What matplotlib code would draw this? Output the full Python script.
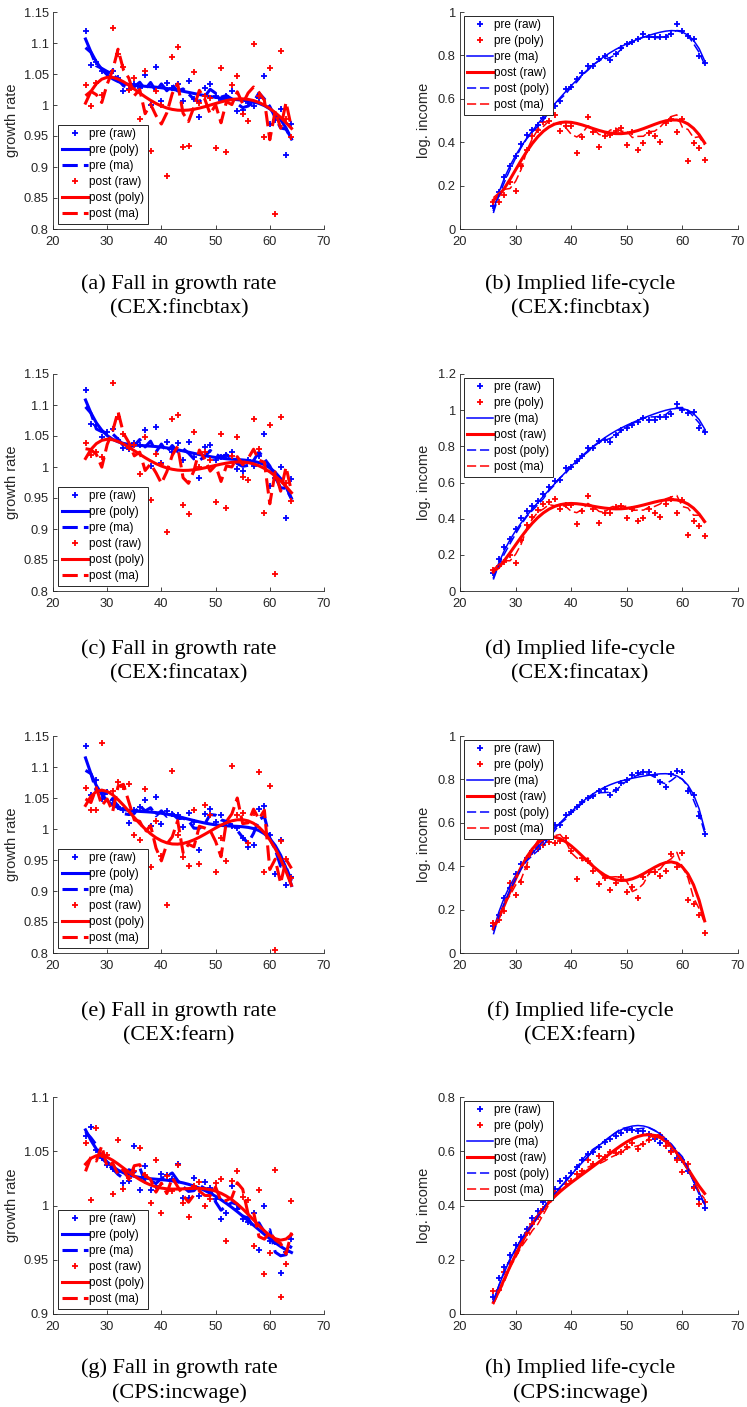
import numpy as np
import pandas as pd
import matplotlib
matplotlib.use("Agg")
import matplotlib.pyplot as plt
from matplotlib.ticker import FuncFormatter
from numpy.polynomial import Polynomial

ages = np.arange(26, 65)

# growth rates by age (left column)
growth_fincbtax_pre = [1.120, 1.065, 1.070, 1.055, 1.052, 1.055, 1.044, 1.023, 1.026, 1.034,
                       1.028, 1.048, 1.000, 1.061, 1.006, 1.035, 1.028, 1.034, 1.006, 1.038,
                       1.010, 0.980, 1.027, 1.034, 1.015, 1.008, 1.015, 1.023, 0.991, 0.992,
                       1.004, 0.999, 1.012, 1.047, 0.970, 0.976, 0.993, 0.920, 0.970]
growth_fincbtax_post = [1.032, 0.998, 1.036, 1.016, 0.960, 1.125, 1.083, 1.062, 1.025, 1.043,
                        0.977, 1.055, 0.926, 1.023, 1.000, 0.885, 1.077, 1.093, 0.933, 0.934,
                        1.053, 1.003, 1.015, 1.011, 0.930, 1.060, 0.924, 1.032, 1.046, 0.986,
                        0.974, 1.098, 1.015, 0.948, 1.060, 0.824, 1.087, 0.977, 0.949]
growth_fincatax_pre = [1.125, 1.069, 1.067, 1.048, 1.056, 1.061, 1.043, 1.031, 1.029, 1.038,
                       1.036, 1.059, 1.002, 1.064, 1.006, 1.041, 1.025, 1.038, 1.011, 1.040,
                       1.016, 0.983, 1.033, 1.035, 1.012, 1.016, 1.019, 1.025, 0.997, 0.994,
                       1.012, 1.002, 1.017, 1.054, 0.969, 0.982, 1.000, 0.917, 0.980]
growth_fincatax_post = [1.039, 1.020, 1.025, 1.016, 0.958, 1.135, 1.080, 1.053, 1.030, 1.035,
                        0.989, 1.048, 0.946, 1.021, 1.005, 0.895, 1.077, 1.084, 0.939, 0.925,
                        1.057, 1.000, 1.025, 1.012, 0.943, 1.053, 0.934, 1.018, 1.048, 0.984,
                        0.979, 1.078, 1.029, 0.926, 1.068, 0.828, 1.080, 0.975, 0.945]
growth_fearn_pre = [1.134, 1.055, 1.079, 1.048, 1.060, 1.047, 1.035, 1.030, 1.009, 1.031,
                    1.035, 1.047, 1.005, 1.051, 1.008, 1.029, 1.024, 1.023, 1.003, 1.026,
                    1.012, 0.966, 1.025, 1.033, 1.012, 1.022, 1.010, 1.005, 1.002, 0.986,
                    0.971, 0.975, 1.033, 1.037, 0.991, 0.928, 0.982, 0.910, 0.923]
growth_fearn_post = [1.066, 1.031, 1.031, 1.138, 0.945, 1.062, 1.076, 1.068, 1.072, 0.990,
                     0.982, 1.065, 0.939, 1.013, 0.956, 0.877, 1.094, 0.991, 0.955, 0.940,
                     1.031, 0.943, 1.039, 1.023, 0.931, 0.986, 0.949, 1.102, 1.022, 1.026,
                     0.978, 1.026, 1.092, 0.930, 1.069, 0.805, 0.980, 0.952, 0.921]
growth_incwage_pre = [1.064, 1.072, 1.051, 1.044, 1.037, 1.034, 1.031, 1.021, 1.023, 1.055,
                      1.014, 1.036, 1.014, 1.018, 1.029, 1.028, 1.024, 1.038, 1.007, 1.007,
                      1.025, 1.009, 1.022, 1.016, 1.006, 0.988, 0.993, 1.018, 0.997, 0.988,
                      0.985, 0.993, 0.959, 1.000, 0.967, 0.966, 0.938, 0.957, 0.969]
growth_incwage_post = [1.058, 1.005, 1.071, 1.047, 1.047, 1.011, 1.060, 1.015, 1.025, 1.032,
                       1.053, 1.028, 1.002, 1.042, 0.993, 1.027, 1.013, 1.037, 1.002, 0.989,
                       1.018, 1.022, 1.000, 1.006, 1.021, 1.024, 0.967, 1.023, 1.032, 1.008,
                       1.005, 0.963, 1.014, 0.937, 0.956, 1.033, 0.916, 0.946, 1.004]

# implied log income by age (right column)
income_fincbtax_pre = [0.108, 0.170, 0.238, 0.290, 0.338, 0.393, 0.435, 0.455, 0.480, 0.510,
                       0.540, 0.565, 0.590, 0.645, 0.655, 0.690, 0.720, 0.750, 0.753, 0.784,
                       0.796, 0.780, 0.808, 0.836, 0.854, 0.860, 0.876, 0.897, 0.885, 0.885,
                       0.885, 0.885, 0.897, 0.943, 0.914, 0.888, 0.876, 0.796, 0.765]
income_fincbtax_post = [0.123, 0.123, 0.158, 0.215, 0.174, 0.292, 0.366, 0.427, 0.455, 0.495,
                        0.500, 0.527, 0.450, 0.473, 0.473, 0.350, 0.424, 0.516, 0.445, 0.376,
                        0.430, 0.435, 0.450, 0.465, 0.385, 0.445, 0.366, 0.396, 0.442, 0.427,
                        0.400, 0.490, 0.505, 0.447, 0.507, 0.312, 0.396, 0.373, 0.320]
income_fincatax_pre = [0.101, 0.175, 0.243, 0.289, 0.344, 0.403, 0.445, 0.469, 0.497, 0.537,
                       0.574, 0.611, 0.615, 0.679, 0.685, 0.718, 0.749, 0.791, 0.791, 0.828,
                       0.837, 0.826, 0.860, 0.891, 0.902, 0.918, 0.937, 0.957, 0.948, 0.948,
                       0.961, 0.961, 0.979, 1.034, 1.001, 0.983, 0.992, 0.900, 0.878]
income_fincatax_post = [0.118, 0.136, 0.160, 0.200, 0.157, 0.280, 0.363, 0.409, 0.449, 0.479,
                        0.490, 0.510, 0.451, 0.477, 0.477, 0.368, 0.440, 0.523, 0.455, 0.377,
                        0.431, 0.431, 0.464, 0.470, 0.405, 0.455, 0.385, 0.403, 0.455, 0.431,
                        0.409, 0.482, 0.510, 0.433, 0.501, 0.311, 0.385, 0.359, 0.302]
income_fearn_pre = [0.126, 0.176, 0.255, 0.301, 0.362, 0.410, 0.440, 0.471, 0.489, 0.520,
                    0.560, 0.590, 0.590, 0.638, 0.650, 0.673, 0.696, 0.714, 0.723, 0.745,
                    0.757, 0.726, 0.749, 0.784, 0.795, 0.821, 0.830, 0.833, 0.833, 0.821,
                    0.787, 0.764, 0.825, 0.840, 0.833, 0.745, 0.726, 0.631, 0.550]
income_fearn_post = [0.137, 0.150, 0.195, 0.324, 0.267, 0.328, 0.395, 0.465, 0.480, 0.500,
                     0.510, 0.506, 0.514, 0.529, 0.471, 0.343, 0.438, 0.426, 0.380, 0.319,
                     0.347, 0.290, 0.324, 0.350, 0.281, 0.305, 0.252, 0.351, 0.374, 0.374,
                     0.354, 0.380, 0.456, 0.397, 0.460, 0.245, 0.225, 0.176, 0.091]
income_incwage_pre = [0.061, 0.132, 0.175, 0.217, 0.254, 0.285, 0.315, 0.354, 0.379, 0.413,
                      0.443, 0.460, 0.489, 0.501, 0.520, 0.541, 0.566, 0.590, 0.596, 0.614,
                      0.633, 0.645, 0.657, 0.669, 0.679, 0.679, 0.675, 0.675, 0.663, 0.645,
                      0.629, 0.639, 0.602, 0.574, 0.566, 0.529, 0.468, 0.425, 0.391]
income_incwage_post = [0.083, 0.089, 0.154, 0.187, 0.225, 0.260, 0.300, 0.333, 0.358, 0.388,
                       0.420, 0.445, 0.458, 0.480, 0.492, 0.517, 0.529, 0.566, 0.553, 0.584,
                       0.578, 0.596, 0.594, 0.596, 0.614, 0.629, 0.608, 0.625, 0.640, 0.651,
                       0.660, 0.620, 0.598, 0.566, 0.523, 0.553, 0.464, 0.407, 0.413]

sources = ["CEX:fincbtax", "CEX:fincatax", "CEX:fearn", "CPS:incwage"]
growth_pre = [growth_fincbtax_pre, growth_fincatax_pre, growth_fearn_pre, growth_incwage_pre]
growth_post = [growth_fincbtax_post, growth_fincatax_post, growth_fearn_post, growth_incwage_post]
income_pre = [income_fincbtax_pre, income_fincatax_pre, income_fearn_pre, income_incwage_pre]
income_post = [income_fincbtax_post, income_fincatax_post, income_fearn_post, income_incwage_post]
growth_ylims = [(0.8, 1.15), (0.8, 1.15), (0.8, 1.15), (0.9, 1.1)]
income_ylims = [(0, 1), (0, 1.2), (0, 1), (0, 0.8)]

legend_labels = ["pre (raw)", "pre (poly)", "pre (ma)", "post (raw)", "post (poly)", "post (ma)"]


def poly_fit(y, deg=5):
    return Polynomial.fit(ages, y, deg)(ages)


def moving_average(y, window=3):
    return pd.Series(y).rolling(window, center=True, min_periods=1).mean().to_numpy()


def life_cycle(g_smooth, g_raw, y_raw):
    # accumulate log growth, level set so it sits on the plotted points
    base = np.cumsum(np.log(g_raw))
    offset = np.mean(np.asarray(y_raw) - base)
    return offset + np.cumsum(np.log(g_smooth))


def style_axes(ax):
    for side in ["top", "right"]:
        ax.spines[side].set_visible(False)
    for side in ["left", "bottom"]:
        ax.spines[side].set_color("#262626")
        ax.spines[side].set_linewidth(0.6)
    ax.tick_params(direction="in", length=3, width=0.6, color="#262626",
                   labelcolor="#262626", labelsize=9.3)
    ax.tick_params(axis="x", pad=5)
    ax.tick_params(axis="y", pad=3)
    ax.yaxis.set_major_formatter(FuncFormatter(lambda v, p: f"{v:g}"))
    ax.set_xlim(20, 70)
    ax.set_xticks(np.arange(20, 71, 10))


def add_legend(ax, loc, pad):
    leg = ax.legend(legend_labels, loc=loc, fontsize=8.5, fancybox=False,
                    edgecolor="#262626", framealpha=1, handlelength=2.2,
                    handletextpad=0.1, borderpad=0.3, labelspacing=0.34,
                    borderaxespad=pad)
    leg.get_frame().set_linewidth(0.7)


plt.rcParams["font.family"] = ["Liberation Sans", "DejaVu Sans"]

W, H = 747, 1407
fig = plt.figure(figsize=(W / 100, H / 100), dpi=100)

row_bottoms = [229, 591, 953, 1314]
caption_y = [(284, 309), (649, 674), (1011, 1036), (1368, 1393)]
letters = "abcdefgh"
mk = dict(marker="+", linestyle="none", markersize=5, markeredgewidth=1.3)
dash_thick = (5, 2)
dash_thin = (6, 2.5)

for r in range(4):
    bottom = 1 - row_bottoms[r] / H
    height = 217 / H
    g_pre = np.array(growth_pre[r])
    g_post = np.array(growth_post[r])
    y_pre = np.array(income_pre[r])
    y_post = np.array(income_post[r])

    pre_poly = poly_fit(g_pre)
    post_poly = poly_fit(g_post)
    pre_ma = moving_average(g_pre)
    post_ma = moving_average(g_post)

    # left: growth rate
    ax = fig.add_axes([53 / W, bottom, 271 / W, height])
    ax.plot(ages, g_pre, color="b", **mk)
    ax.plot(ages, pre_poly, color="b", lw=2.2)
    ax.plot(ages, pre_ma, color="b", lw=2.2, linestyle="--", dashes=dash_thick)
    ax.plot(ages, g_post, color="r", **mk)
    ax.plot(ages, post_poly, color="r", lw=2.2)
    ax.plot(ages, post_ma, color="r", lw=2.2, linestyle="--", dashes=dash_thick)
    style_axes(ax)
    lo, hi = growth_ylims[r]
    ax.set_ylim(lo, hi)
    ax.set_yticks(np.arange(lo, hi + 1e-9, 0.05))
    ax.set_ylabel("growth rate", fontsize=10.5, color="#262626")
    ax.yaxis.set_label_coords(-0.125, 0.5)
    add_legend(ax, "lower left", 0.45)

    # right: implied life-cycle
    ax2 = fig.add_axes([460 / W, bottom, 278 / W, height])
    ax2.plot(ages, y_pre, color="b", **mk)
    ax2.plot(ages, y_post, color="r", **mk)
    ax2.plot(ages, life_cycle(pre_poly, g_pre, y_pre), color="b", lw=1.1)
    ax2.plot(ages, life_cycle(post_poly, g_post, y_post), color="r", lw=2.2)
    ax2.plot(ages, life_cycle(pre_ma, g_pre, y_pre), color="b", lw=1.1,
             linestyle="--", dashes=dash_thin)
    ax2.plot(ages, life_cycle(post_ma, g_post, y_post), color="r", lw=1.1,
             linestyle="--", dashes=dash_thin)
    style_axes(ax2)
    lo, hi = income_ylims[r]
    ax2.set_ylim(lo, hi)
    ax2.set_yticks(np.arange(lo, hi + 1e-9, 0.2))
    ax2.set_ylabel("log. income", fontsize=10.5, color="#262626")
    ax2.yaxis.set_label_coords(-0.105, 0.5)
    add_legend(ax2, "upper left", 0.3)

    # captions
    y1, y2 = caption_y[r]
    cap = dict(ha="center", va="center", fontsize=16, family="Liberation Serif")
    fig.text(179 / W, 1 - y1 / H, f"({letters[2 * r]}) Fall in growth rate", **cap)
    fig.text(179 / W, 1 - y2 / H, f"({sources[r]})", **cap)
    fig.text(580 / W, 1 - y1 / H, f"({letters[2 * r + 1]}) Implied life-cycle", **cap)
    fig.text(580 / W, 1 - y2 / H, f"({sources[r]})", **cap)

fig.savefig("out.png", dpi=100)
